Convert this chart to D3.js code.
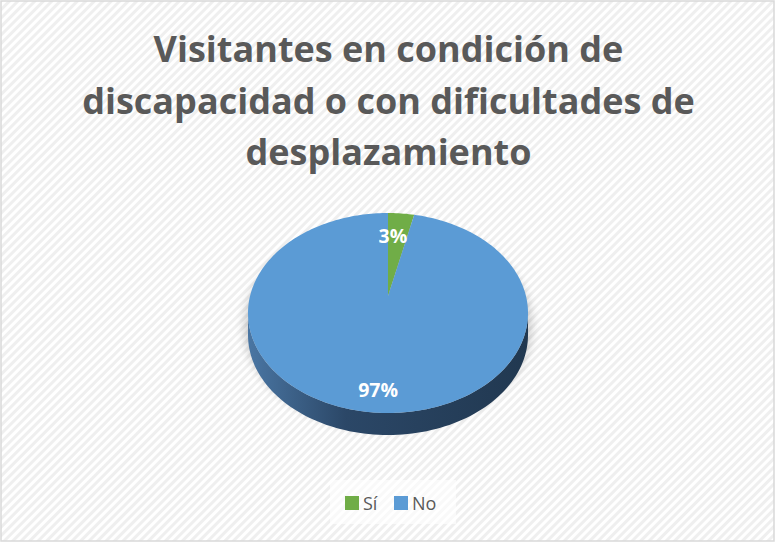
<!DOCTYPE html>
<html>
<head>
<meta charset="utf-8">
<script src="https://cdn.jsdelivr.net/npm/d3@7"></script>
<style>
  body { margin: 0; background: #fff; }
  svg { display: block; }
</style>
</head>
<body>
<svg id="chart" width="775" height="542"></svg>
<script>
// data
var categories = ['Sí', 'No'];
var values = [3, 97];
var sliceColors = ['#70ad47', '#5b9bd5'];
var titleLines = ['Visitantes en condición de', 'discapacidad o con dificultades de', 'desplazamiento'];

var W = 775, H = 542;
var svg = d3.select('#chart');
var FONT = '"Open Sans", Lato, sans-serif';

// background + hatch
var defs = svg.append('defs');
var pat = defs.append('pattern')
    .attr('id', 'hatch')
    .attr('patternUnits', 'userSpaceOnUse')
    .attr('width', 6).attr('height', 6)
    .attr('patternTransform', 'rotate(45)');
pat.append('rect').attr('width', 6).attr('height', 6).attr('fill', '#ffffff');
pat.append('rect').attr('x', 0).attr('width', 3).attr('height', 6).attr('fill', '#efefef');

var grad = defs.append('linearGradient').attr('id', 'side')
    .attr('x1', '0%').attr('x2', '100%').attr('y1', '0%').attr('y2', '0%');
grad.append('stop').attr('offset', '0%').attr('stop-color', '#4a76a3');
grad.append('stop').attr('offset', '35%').attr('stop-color', '#2b4767');
grad.append('stop').attr('offset', '100%').attr('stop-color', '#213850');

var blur = defs.append('filter').attr('id', 'shadow')
    .attr('x', '-20%').attr('y', '-20%').attr('width', '140%').attr('height', '140%');
blur.append('feGaussianBlur').attr('stdDeviation', 5);

svg.append('rect')
    .attr('x', 1).attr('y', 1)
    .attr('width', W - 2).attr('height', H - 2)
    .attr('fill', 'url(#hatch)')
    .attr('stroke', '#d9d9d9')
    .attr('stroke-width', 1.5);

// title
svg.append('g').selectAll('text')
    .data(titleLines)
    .join('text')
    .attr('x', W / 2 + 1)
    .attr('y', (d, i) => 62 + i * 51.5)
    .attr('text-anchor', 'middle')
    .attr('font-family', FONT)
    .attr('font-weight', 'bold')
    .attr('font-size', 36)
    .attr('fill', '#595959')
    .text(d => d);

// pie geometry
var cx = 388, cy = 313, rx = 140, ry = 100, depth = 22, apexY = 296;

function pt(a, k){
    k = k || 1;
    return [cx + rx * k * Math.sin(a), cy - ry * k * Math.cos(a)];
}

var pie = d3.pie().sort(null).value(d => d)(values);
var color = d3.scaleOrdinal().domain(categories).range(sliceColors);

// soft shadow
svg.append('ellipse')
    .attr('cx', cx).attr('cy', cy + depth / 2 + 2)
    .attr('rx', rx + 4).attr('ry', ry + 4)
    .attr('fill', '#000').attr('opacity', 0.18)
    .attr('filter', 'url(#shadow)');

// side wall (front half)
var sidePts = d3.range(Math.PI / 2, 3 * Math.PI / 2 + 0.0001, Math.PI / 90).map(a => pt(a));
var sidePath = d3.path();
sidePts.forEach((p, i) => i ? sidePath.lineTo(p[0], p[1]) : sidePath.moveTo(p[0], p[1]));
sidePts.slice().reverse().forEach(p => sidePath.lineTo(p[0], p[1] + depth));
sidePath.closePath();
svg.append('path').attr('d', sidePath.toString()).attr('fill', 'url(#side)');

// top face slices
function slicePath(d){
    var p = d3.path();
    p.moveTo(cx, apexY);
    var n = Math.max(2, Math.ceil((d.endAngle - d.startAngle) / 0.02));
    for (var i = 0; i <= n; i++){
        var a = d.startAngle + (d.endAngle - d.startAngle) * i / n;
        var q = pt(a);
        p.lineTo(q[0], q[1]);
    }
    p.closePath();
    return p.toString();
}

svg.append('g').selectAll('path')
    .data(pie)
    .join('path')
    .attr('d', slicePath)
    .attr('fill', (d, i) => color(categories[i]));

// labels
svg.append('g').selectAll('text')
    .data(pie)
    .join('text')
    .attr('x', d => pt((d.startAngle + d.endAngle) / 2, 0.75)[0] + ((d.startAngle + d.endAngle) / 2 < 1 ? -5 : 0))
    .attr('y', d => pt((d.startAngle + d.endAngle) / 2, 0.77)[1] + 7)
    .attr('text-anchor', 'middle')
    .attr('font-family', FONT)
    .attr('font-weight', 'bold')
    .attr('font-size', 19.5)
    .attr('fill', '#ffffff')
    .text(d => d.value + '%');

// legend
var legend = svg.append('g');
legend.append('rect')
    .attr('x', 330).attr('y', 480).attr('width', 126).attr('height', 44)
    .attr('fill', '#ffffff').attr('opacity', 0.6);
var legX = [345, 394];
var items = legend.selectAll('g.item')
    .data(categories)
    .join('g')
    .attr('class', 'item')
    .attr('transform', (d, i) => 'translate(' + legX[i] + ',496)');
items.append('rect')
    .attr('width', 14).attr('height', 14)
    .attr('fill', d => color(d));
items.append('text')
    .attr('x', 18).attr('y', 14)
    .attr('font-family', FONT)
    .attr('font-size', 18)
    .attr('fill', '#595959')
    .text(d => d);
</script>
</body>
</html>
